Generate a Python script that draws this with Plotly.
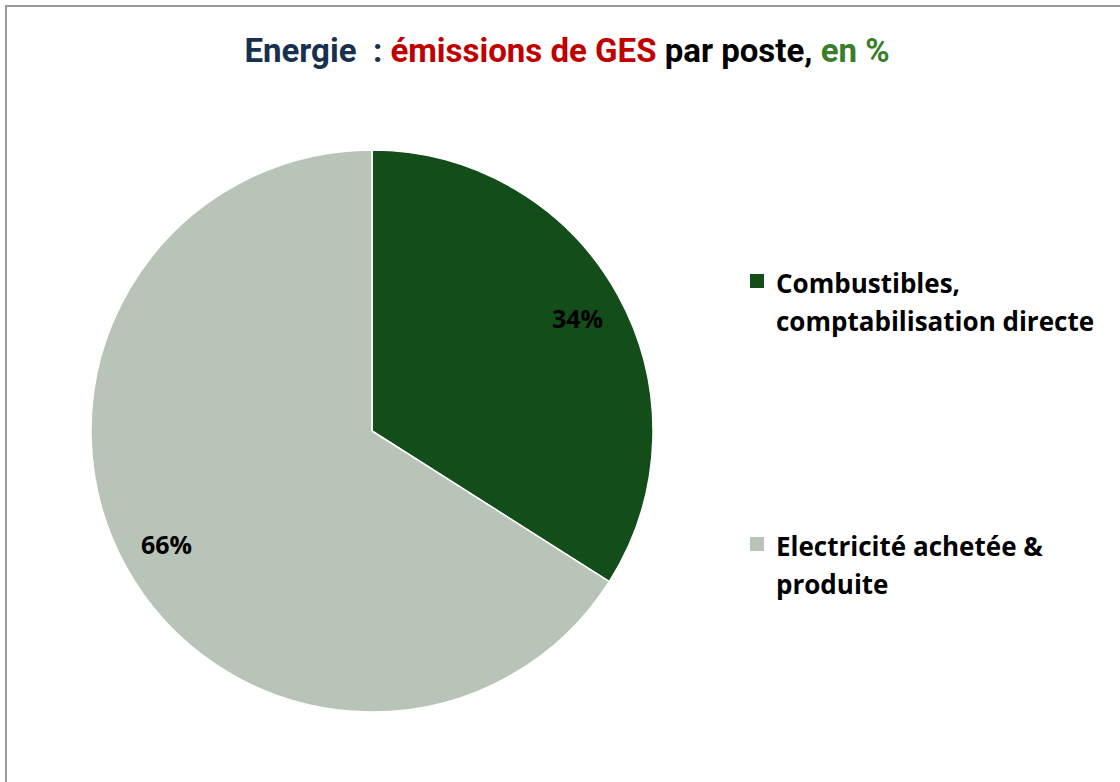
import math
import plotly.graph_objects as go

categories = ["Combustibles,<br>comptabilisation directe", "Electricité achetée &<br>produite"]
values = [34, 66]
colors = ["#124D1A", "#B8C4B8"]

W, H = 1120, 782
cx, cy, R = 372, 431, 281


def px(x):
    return x / W


def py(y):
    return 1 - y / H


fig = go.Figure()
fig.add_trace(go.Pie(
    labels=[c.replace("<br>", " ") for c in categories], values=values, sort=False,
    direction="clockwise", rotation=0,
    marker=dict(colors=colors, line=dict(color="white", width=1.5)),
    textinfo="none", showlegend=False, hoverinfo="label+percent",
    domain=dict(x=[px(cx - R), px(cx + R)], y=[py(cy + R), py(cy - R)]),
))

annotations = []
# percentage labels placed along each slice's mid-angle (computed from the data)
total = sum(values)
cum = 0
for v in values:
    mid = (cum + v / 2) / total * 2 * math.pi
    cum += v
    r = 0.835 * R
    annotations.append(dict(xref="paper", yref="paper",
                            x=px(cx + r * math.sin(mid)), y=py(cy - r * math.cos(mid)),
                            xanchor="center", yanchor="middle", showarrow=False,
                            text=f"{round(v / total * 100)}%",
                            font=dict(family="Open Sans", size=25, color="black", weight="bold")))

title = ("<span style='color:#17304F'>Energie  : </span>"
         "<span style='color:#C00000'>émissions de GES</span>"
         "<span style='color:#000000'> par poste, </span>"
         "<span style='color:#3A7D2A'>en %</span>")

shapes = [dict(type="rect", xref="paper", yref="paper", x0=px(6), x1=1.2, y0=-0.2, y1=py(6),
               line=dict(color="#9A9A9A", width=2), fillcolor="rgba(0,0,0,0)", layer="below")]
legend_y = [281, 544]
for cat, col, ly in zip(categories, colors, legend_y):
    shapes.append(dict(type="rect", xref="paper", yref="paper",
                       x0=px(750), x1=px(764), y0=py(ly + 7), y1=py(ly - 7),
                       fillcolor=col, line=dict(width=0)))
    for i, line in enumerate(cat.split("<br>")):
        annotations.append(dict(xref="paper", yref="paper", x=px(774), y=py(ly + 2 + 38 * i),
                                xanchor="left", yanchor="middle", align="left", showarrow=False,
                                text=line,
                                font=dict(family="Open Sans", size=26, color="black", weight="bold")))

fig.update_layout(
    width=W, height=H, margin=dict(l=0, r=0, t=0, b=0),
    paper_bgcolor="white", plot_bgcolor="white",
    title=dict(text=title, x=px(567), xanchor="center", y=py(50), yanchor="middle",
               font=dict(family="Roboto", size=33, weight="bold")),
    shapes=shapes, annotations=annotations,
)
fig.write_html("out.html", config={"displayModeBar": False},
               post_script="document.body.style.margin='0';")
